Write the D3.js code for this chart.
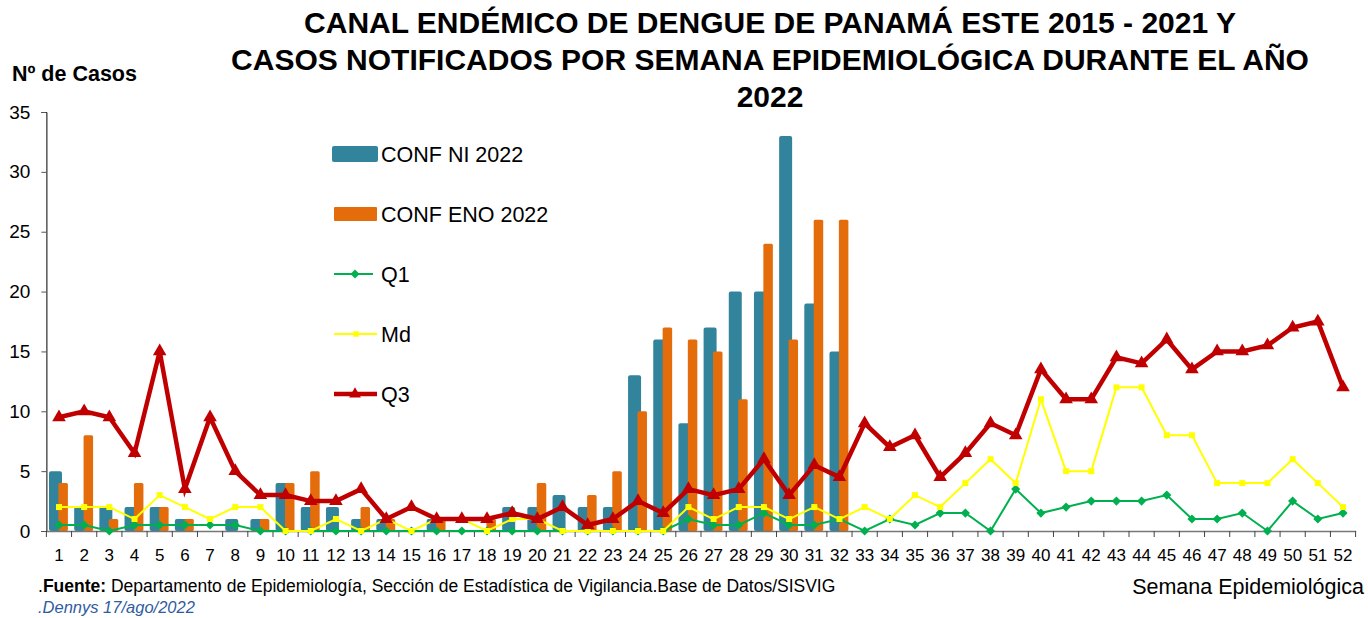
<!DOCTYPE html>
<html><head><meta charset="utf-8">
<script src="https://cdn.jsdelivr.net/npm/d3@7"></script>
<style>
body{margin:0;background:#fff;}
svg{display:block;}
text{font-family:"Liberation Sans",Arial,sans-serif;}
</style></head>
<body><svg id="c" width="1368" height="618"></svg>
<script>
const weeks = d3.range(1,53).map(String);
const confNI = [5,2,2,2,2,1,0,1,1,4,2,2,1,1,0,1,0,0,2,2,3,2,2,13,16,9,17,20,20,33,19,15];
const confENO = [4,8,1,4,2,1,0,0,1,4,5,0,2,1,0,1,0,1,0,4,0,3,5,10,17,16,15,11,24,16,26,26];
const q1 = [0.5,0.5,0,0.5,0.5,0.5,0.5,0.5,0,0,0,0,0,0,0,0,0,0,0,0,0,0,0,0,0,1,0.5,0.5,1.5,0.5,0.5,1,0,1,0.5,1.5,1.5,0,3.5,1.5,2,2.5,2.5,2.5,3,1,1,1.5,0,2.5,1,1.5];
const md = [2,2,2,1,3,2,1,2,2,0,0,1,0,1,0,1,1,0,1,1,0,0,0,0,0,2,1,2,2,1,2,1,2,1,3,2,4,6,4,11,5,5,12,12,8,8,4,4,4,6,4,2];
const q3 = [9.5,10,9.5,6.5,15,3.5,9.5,5,3,3,2.5,2.5,3.5,1,2,1,1,1,1.5,1,2,0.5,1,2.5,1.5,3.5,3,3.5,6,3,5.5,4.5,9,7,8,4.5,6.5,9,8,13.5,11,11,14.5,14,16,13.5,15,15,15.5,17,17.5,12];
const yTicks = [0,5,10,15,20,25,30,35];
const titleLines = ["CANAL ENDÉMICO DE DENGUE DE PANAMÁ ESTE 2015 - 2021 Y","CASOS NOTIFICADOS POR SEMANA EPIDEMIOLÓGICA DURANTE EL AÑO","2022"];
const legendLabels = ["CONF NI 2022","CONF ENO 2022","Q1","Md","Q3"];

const C = {blue:"#31849B", orange:"#E46C0A", green:"#00B050", yellow:"#FFFF00", red:"#C00000"};
const svg = d3.select("#c");
const x = d3.scaleBand().domain(weeks).range([46.4,1355.6]).padding(0);
const y = d3.scaleLinear().domain([0,35]).range([531,112]);
const bw = x.bandwidth();

// title
svg.append("g").selectAll("text").data(titleLines).join("text")
  .attr("x",770).attr("y",(d,i)=>33+i*37).attr("text-anchor","middle")
  .attr("font-size",30).attr("font-weight","bold").attr("fill","#000").text(d=>d);

svg.append("text").attr("x",12).attr("y",81).attr("font-size",21.5).attr("font-weight","bold").text("Nº de Casos");

// y axis
const ya = svg.append("g").attr("transform","translate(46.4,0)")
  .call(d3.axisLeft(y).tickValues(yTicks).tickSize(5).tickPadding(11));
ya.select(".domain").attr("stroke","#000");
ya.selectAll(".tick line").attr("stroke","#555");
ya.selectAll("text").attr("font-size",19).attr("font-family","Liberation Sans, Arial").attr("fill","#000");

// bars
svg.append("g").selectAll("rect").data(confNI).join("rect")
  .attr("x",(d,i)=>x(weeks[i])+2.6).attr("width",13)
  .attr("y",d=>y(d)).attr("height",d=>y(0)-y(d)).attr("rx",2)
  .attr("fill",C.blue);
svg.append("g").selectAll("rect").data(confENO).join("rect")
  .attr("x",(d,i)=>x(weeks[i])+12).attr("width",9.5)
  .attr("y",d=>y(d)).attr("height",d=>y(0)-y(d)).attr("rx",1.5)
  .attr("fill",C.orange);

// x axis
const xa = svg.append("g").attr("transform","translate(0,531)")
  .call(d3.axisBottom(x).tickSize(0).tickPadding(18));
xa.select(".domain").attr("stroke","#777").attr("stroke-width",1.5);
xa.selectAll("text").attr("font-size",17).attr("font-family","Liberation Sans, Arial").attr("fill","#000");
svg.append("g").selectAll("line").data(weeks.concat(["end"])).join("line")
  .attr("x1",d=>d==="end"?x.range()[1]:x(d)).attr("x2",d=>d==="end"?x.range()[1]:x(d))
  .attr("y1",531).attr("y2",537).attr("stroke","#444");

const cx = (d,i)=>x(weeks[i])+bw/2;
const line = d3.line().x(cx).y(d=>y(d));

// Q1
svg.append("path").datum(q1).attr("d",line).attr("fill","none").attr("stroke",C.green).attr("stroke-width",2);
svg.append("g").selectAll("path").data(q1).join("path")
  .attr("d",d3.symbol(d3.symbolSquare, 42))
  .attr("transform",(d,i)=>`translate(${cx(d,i)},${y(d)}) rotate(45)`).attr("fill",C.green);
// Md
svg.append("path").datum(md).attr("d",line).attr("fill","none").attr("stroke",C.yellow).attr("stroke-width",2);
svg.append("g").selectAll("path").data(md).join("path")
  .attr("d",d3.symbol(d3.symbolSquare,36))
  .attr("transform",(d,i)=>`translate(${cx(d,i)},${y(d)})`).attr("fill",C.yellow);
// Q3
svg.append("path").datum(q3).attr("d",line).attr("fill","none").attr("stroke",C.red).attr("stroke-width",4.5).attr("stroke-linejoin","miter");
svg.append("g").selectAll("path").data(q3).join("path")
  .attr("d",d3.symbol(d3.symbolTriangle,80))
  .attr("transform",(d,i)=>`translate(${cx(d,i)},${y(d)})`).attr("fill",C.red);

// legend
const lg = svg.append("g");
const ly = i=>154+i*60;
lg.append("rect").attr("x",332).attr("y",ly(0)-8).attr("width",46).attr("height",16).attr("rx",2).attr("fill",C.blue);
lg.append("rect").attr("x",334).attr("y",ly(1)-7).attr("width",43).attr("height",14).attr("rx",1).attr("fill",C.orange);
lg.append("line").attr("x1",334).attr("x2",373).attr("y1",ly(2)).attr("y2",ly(2)).attr("stroke",C.green).attr("stroke-width",2);
lg.append("path").attr("d",d3.symbol(d3.symbolSquare,40)).attr("transform",`translate(355,${ly(2)}) rotate(45)`).attr("fill",C.green);
lg.append("line").attr("x1",334).attr("x2",377).attr("y1",ly(3)).attr("y2",ly(3)).attr("stroke",C.yellow).attr("stroke-width",2);
lg.append("path").attr("d",d3.symbol(d3.symbolSquare,30)).attr("transform",`translate(356,${ly(3)})`).attr("fill",C.yellow);
lg.append("line").attr("x1",334).attr("x2",377).attr("y1",ly(4)).attr("y2",ly(4)).attr("stroke",C.red).attr("stroke-width",4.5);
lg.append("path").attr("d",d3.symbol(d3.symbolTriangle,60)).attr("transform",`translate(355,${ly(4)})`).attr("fill",C.red);
lg.selectAll("text").data(legendLabels).join("text")
  .attr("x",381).attr("y",(d,i)=>ly(i)+7.5).attr("font-size",21.5).attr("fill","#000").text(d=>d);

// axis title & footer
svg.append("text").attr("x",1364).attr("y",594).attr("text-anchor","end").attr("font-size",21.5).text("Semana Epidemiológica");
const f = svg.append("text").attr("x",38).attr("y",592).attr("font-size",17.5);
f.append("tspan").text(".");
f.append("tspan").attr("font-weight","bold").text("Fuente:");
f.append("tspan").text(" Departamento de Epidemiología, Sección de Estadística de Vigilancia.Base de Datos/SISVIG");
svg.append("text").attr("x",38).attr("y",613).attr("font-size",16.5).attr("font-style","italic").attr("fill","#2E5C9E")
  .text(".Dennys 17/ago/2022");
</script></body></html>
